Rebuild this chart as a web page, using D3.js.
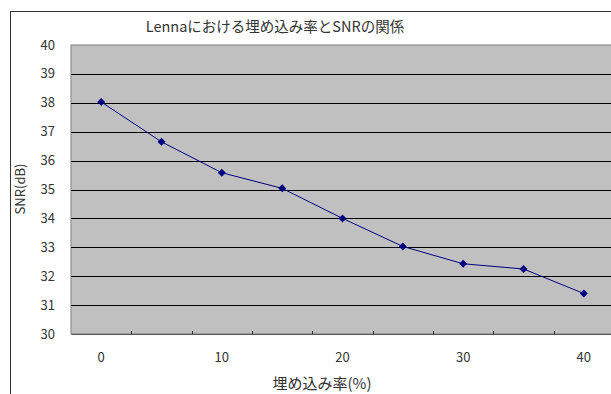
<!DOCTYPE html>
<html>
<head>
<meta charset="utf-8">
<script src="https://cdn.jsdelivr.net/npm/d3@7"></script>
<style>
  html, body { margin: 0; padding: 0; background: #fff; }
  svg { display: block; }
  text { font-family: "Noto Sans CJK JP", "Noto Sans", sans-serif; fill: #333; }
</style>
</head>
<body>
<svg id="chart" width="611" height="394"></svg>
<script>
// Embedding rate (%) and resulting SNR (dB) for Lenna
const rates = [0, 5, 10, 15, 20, 25, 30, 35, 40];
const snr = [38.03, 36.65, 35.58, 35.04, 34.0, 33.03, 32.43, 32.25, 31.4];
const yTicks = [30, 31, 32, 33, 34, 35, 36, 37, 38, 39, 40];
const xLabels = [0, 10, 20, 30, 40];
const titleText = "Lennaにおける埋め込み率とSNRの関係";
const xTitle = "埋め込み率(%)";
const yTitle = "SNR(dB)";

const svg = d3.select("#chart");
const plot = { left: 71, top: 45, right: 614, bottom: 334 };

// Outer chart frame
svg.append("rect")
  .attr("x", 10.5).attr("y", 11.5)
  .attr("width", 620).attr("height", 400)
  .attr("fill", "#fff").attr("stroke", "#333").attr("stroke-width", 1);

const x = d3.scaleBand().domain(rates).range([plot.left, plot.right]);
const y = d3.scaleLinear().domain([30, 40]).range([plot.bottom, plot.top]);

// Plot area
svg.append("rect")
  .attr("x", plot.left).attr("y", plot.top)
  .attr("width", plot.right - plot.left).attr("height", plot.bottom - plot.top)
  .attr("fill", "#c0c0c0").attr("stroke", "#808080").attr("stroke-width", 1);

// Horizontal gridlines
svg.append("g").selectAll("line")
  .data(yTicks.slice(1, -1))
  .join("line")
  .attr("x1", plot.left).attr("x2", plot.right)
  .attr("y1", d => Math.round(y(d)) + 0.5).attr("y2", d => Math.round(y(d)) + 0.5)
  .attr("stroke", "#000").attr("stroke-width", 1);

// Y axis labels
svg.append("g").selectAll("text")
  .data(yTicks)
  .join("text")
  .attr("x", 55).attr("y", d => y(d))
  .attr("dy", "0.35em")
  .attr("text-anchor", "end")
  .attr("font-size", 13)
  .text(d => d);

// X axis line and inward ticks at category boundaries
const xAxis = svg.append("g").attr("transform", `translate(0,${plot.bottom})`)
  .call(d3.axisBottom(x).tickSize(0).tickFormat(""));
xAxis.select(".domain").attr("stroke", "#555");
svg.append("g").selectAll("line")
  .data(rates.slice(1))
  .join("line")
  .attr("x1", d => Math.round(x(d)) + 0.5).attr("x2", d => Math.round(x(d)) + 0.5)
  .attr("y1", plot.bottom).attr("y2", plot.bottom - 3)
  .attr("stroke", "#333");

// X labels for every other category
svg.append("g").selectAll("text")
  .data(xLabels)
  .join("text")
  .attr("x", d => x(d) + x.bandwidth() / 2)
  .attr("y", 357).attr("dy", "0.35em")
  .attr("text-anchor", "middle")
  .attr("font-size", 13)
  .text(d => d);

// Series line
const pts = rates.map((r, i) => [x(r) + x.bandwidth() / 2, y(snr[i])]);
svg.append("path")
  .attr("d", d3.line()(pts))
  .attr("fill", "none").attr("stroke", "#000080").attr("stroke-width", 1);

// Diamond markers
svg.append("g").selectAll("path")
  .data(pts)
  .join("path")
  .attr("transform", d => `translate(${d[0]},${d[1]})`)
  .attr("d", "M0,-4L4,0L0,4L-4,0Z")
  .attr("fill", "#000080");

// Titles
svg.append("text")
  .attr("x", 275).attr("y", 27).attr("dy", "0.35em")
  .attr("text-anchor", "middle").attr("font-size", 14.5)
  .text(titleText);

svg.append("text")
  .attr("x", 322).attr("y", 384).attr("dy", "0.35em")
  .attr("text-anchor", "middle").attr("font-size", 15)
  .text(xTitle);

svg.append("text")
  .attr("transform", `translate(20,189) rotate(-90)`)
  .attr("dy", "0.35em")
  .attr("text-anchor", "middle").attr("font-size", 13)
  .text(yTitle);
</script>
</body>
</html>
